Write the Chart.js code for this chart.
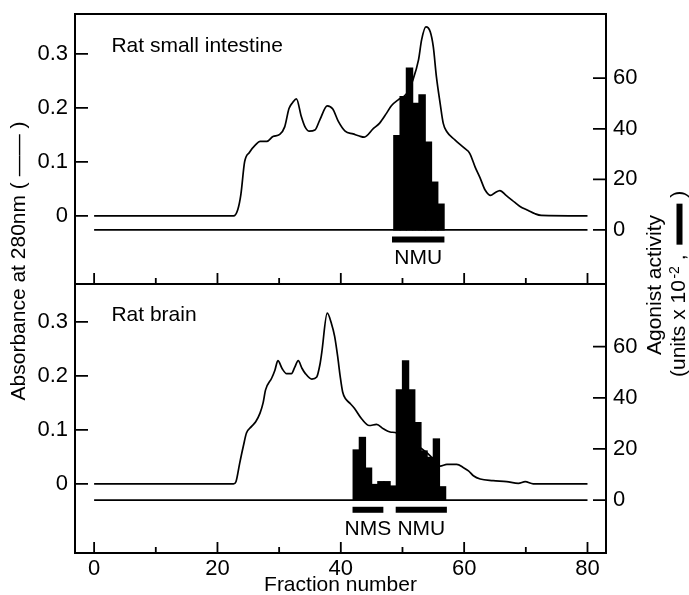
<!DOCTYPE html>
<html>
<head>
<meta charset="utf-8">
<script src="https://cdn.jsdelivr.net/npm/chart.js@4/dist/chart.umd.min.js"></script>
<style>
  html, body { margin: 0; padding: 0; background: #fff; }
  #wrap { position: relative; width: 689px; height: 595px; overflow: hidden; }
  #wrap canvas { position: absolute; left: 0; top: 0; }
</style>
</head>
<body>
<div id="wrap">
  <canvas id="cTop" width="689" height="595"></canvas>
  <canvas id="cBot" width="689" height="595"></canvas>
</div>
<script>
// ---------- data ----------
const fractionTicks = [0, 20, 40, 60, 80];
const fractionMinorTicks = [10, 30, 50, 70];
const absorbanceTicks = [0, 0.1, 0.2, 0.3];
const activityTicks = [0, 20, 40, 60];

const panelNames = ['Rat small intestine', 'Rat brain'];

// Rat small intestine: absorbance at 280 nm
const intestineFraction = [
  0, 22.6, 23.3, 23.8, 24.4, 25.2, 26.2, 26.9, 28.0, 29.0,
  30.1, 30.9, 31.6, 32.2, 32.8, 33.6, 34.2, 34.9, 35.8, 36.6,
  37.8, 38.7, 39.6, 40.7, 42.0, 43.0, 43.8, 45.3, 46.3, 47.4,
  48.2, 49.3, 50.3, 51.0, 51.6, 52.6, 53.1, 53.8, 54.5, 55.0,
  55.5, 56.1, 56.6, 57.2, 58.5, 60.1, 60.9, 61.8, 62.6, 63.4,
  64.3, 65.0, 65.8, 66.8, 67.8, 69.0, 70.4, 71.5, 72.5, 80
];
const intestineAbsorbance = [
  0, 0, 0.012, 0.04, 0.1, 0.118, 0.132, 0.138, 0.138, 0.147,
  0.151, 0.165, 0.199, 0.21, 0.217, 0.184, 0.165, 0.157, 0.159, 0.178,
  0.204, 0.198, 0.175, 0.157, 0.152, 0.148, 0.146, 0.162, 0.172, 0.19,
  0.204, 0.215, 0.222, 0.232, 0.249, 0.289, 0.326, 0.35, 0.341, 0.313,
  0.258, 0.209, 0.172, 0.156, 0.141, 0.125, 0.116, 0.09, 0.07, 0.048,
  0.038, 0.043, 0.047, 0.038, 0.029, 0.018, 0.01, 0.004, 0.001, 0
];
// Rat small intestine: agonist activity (units x 10^-2)
const intestineBarFraction = [49.1, 50.12, 51.14, 52.16, 53.18, 54.2, 55.22, 56.24];
const intestineActivity = [37.3, 52.7, 64.0, 50.1, 53.4, 34.7, 18.9, 10.2];
// pooled fractions
const intestinePoolNames = ['NMU'];
const intestinePoolStart = [48.3];
const intestinePoolEnd = [56.8];

// Rat brain: absorbance at 280 nm
const brainFraction = [
  0, 22.6, 23.0, 23.6, 24.2, 24.7, 25.5, 26.2, 26.9, 27.4,
  27.8, 28.8, 29.3, 29.8, 30.5, 31.2, 32.0, 32.5, 33.1, 33.7,
  34.2, 35.3, 36.1, 36.6, 36.9, 37.8, 38.5, 39.0, 39.5, 39.9,
  40.3, 40.8, 41.5, 42.2, 43.4, 44.6, 45.8, 46.9, 48.0, 48.8,
  50.5, 52.5, 54.5, 56.1, 57.2, 58.8, 59.9, 60.7, 61.5, 62.6,
  64.7, 66.9, 68.8, 69.9, 71.2, 80
];
const brainAbsorbance = [
  0, 0, 0.004, 0.038, 0.07, 0.094, 0.106, 0.115, 0.131, 0.15,
  0.174, 0.196, 0.21, 0.228, 0.213, 0.204, 0.204, 0.215, 0.228, 0.214,
  0.205, 0.194, 0.198, 0.22, 0.242, 0.316, 0.296, 0.273, 0.235, 0.199,
  0.17, 0.157, 0.149, 0.14, 0.12, 0.108, 0.11, 0.102, 0.096, 0.095,
  0.085, 0.07, 0.052, 0.033, 0.036, 0.036, 0.03, 0.024, 0.015, 0.009,
  0.006, 0.004, 0.001, 0.004, 0, 0
];
// Rat brain: agonist activity (units x 10^-2)
const brainBarFraction = [42.5, 43.5, 44.5, 45.5, 46.5, 47.5, 48.5, 49.5, 50.5, 51.5, 52.5, 53.5, 54.5, 55.5, 56.5];
const brainActivity = [19.6, 24.5, 12.5, 6.1, 7.2, 7.2, 5.5, 43.1, 54.4, 43.1, 30.3, 19.2, 16.7, 23.9, 5.2];
const brainPoolNames = ['NMS', 'NMU'];
const brainPoolStart = [41.9, 48.9];
const brainPoolEnd = [46.9, 57.2];

// ---------- styling / layout ----------
const FONT = "'Liberation Sans', Arial, Helvetica, sans-serif";
Chart.defaults.font.family = FONT;
Chart.defaults.color = '#000';

const X_MIN = -3.1, X_MAX = 83;
const POOL_LEVEL = -3.8;       // activity-axis level of pool bars
const POOL_TEXT_LEVEL = -11.3; // activity-axis level of pool labels

function pts(xs, ys) { return xs.map((x, i) => ({ x: x, y: ys[i] })); }

function noPad(s) {
  s.paddingTop = 0; s.paddingBottom = 0; s.paddingLeft = 0; s.paddingRight = 0;
}

const framePlugin = {
  id: 'frameTicks',
  afterDraw(chart) {
    const { ctx, chartArea: a, scales } = chart;
    ctx.save();
    ctx.strokeStyle = '#000';
    ctx.lineWidth = 2;
    ctx.strokeRect(a.left, a.top, a.right - a.left, a.bottom - a.top);
    ctx.lineWidth = 1.8;
    ctx.beginPath();
    absorbanceTicks.forEach(v => {
      const y = scales.yL.getPixelForValue(v);
      ctx.moveTo(a.left, y); ctx.lineTo(a.left + 13, y);
    });
    activityTicks.forEach(v => {
      const y = scales.yR.getPixelForValue(v);
      ctx.moveTo(a.right - 13, y); ctx.lineTo(a.right, y);
    });
    fractionTicks.forEach(v => {
      const x = scales.x.getPixelForValue(v);
      ctx.moveTo(x, a.bottom); ctx.lineTo(x, a.bottom - 11);
    });
    fractionMinorTicks.forEach(v => {
      const x = scales.x.getPixelForValue(v);
      ctx.moveTo(x, a.bottom); ctx.lineTo(x, a.bottom - 6);
    });
    ctx.stroke();
    ctx.restore();
  }
};

const panelTextPlugin = {
  id: 'panelText',
  afterDatasetsDraw(chart, args, o) {
    const { ctx, scales: { x, yL, yR } } = chart;
    ctx.save();
    ctx.fillStyle = '#000';
    ctx.font = '21px ' + FONT;
    ctx.textAlign = 'left';
    ctx.textBaseline = 'alphabetic';
    ctx.fillText(o.title, x.getPixelForValue(o.titleX), yL.getPixelForValue(o.titleY));
    ctx.textAlign = 'center';
    ctx.textBaseline = 'middle';
    o.poolNames.forEach((n, i) => {
      ctx.fillText(n, x.getPixelForValue((o.poolStart[i] + o.poolEnd[i]) / 2), yR.getPixelForValue(POOL_TEXT_LEVEL));
    });
    ctx.restore();
  }
};

const sideTitlesPlugin = {
  id: 'sideTitles',
  afterDraw(chart) {
    const ctx = chart.ctx;
    ctx.save();
    ctx.fillStyle = '#000';
    ctx.font = '21px ' + FONT;
    // left axis title
    ctx.save();
    ctx.translate(19.5, 261);
    ctx.rotate(-Math.PI / 2);
    ctx.textAlign = 'center';
    ctx.textBaseline = 'middle';
    ctx.fillText('Absorbance at 280nm ( \u2014\u2014 )', 0, 0);
    ctx.restore();
    // right axis title, line 1
    ctx.save();
    ctx.translate(655.5, 285);
    ctx.rotate(-Math.PI / 2);
    ctx.textAlign = 'center';
    ctx.textBaseline = 'middle';
    ctx.fillText('Agonist activity', 0, 0);
    ctx.restore();
    // right axis title, line 2
    ctx.save();
    ctx.translate(679.5, 377);
    ctx.rotate(-Math.PI / 2);
    ctx.textAlign = 'left';
    ctx.textBaseline = 'middle';
    let p = 0;
    const t1 = '(units x 10';
    ctx.fillText(t1, p, 0);
    p += ctx.measureText(t1).width + 1.5;
    ctx.font = '14px ' + FONT;
    ctx.fillText('-2', p, -4);
    p += ctx.measureText('-2').width;
    ctx.font = '21px ' + FONT;
    ctx.fillText(' , ', p, 0);
    p += ctx.measureText(' , ').width + 4;
    ctx.fillRect(p, -3, 41, 6);
    p += 41;
    ctx.fillText(' )', p, 0);
    ctx.restore();
    ctx.restore();
  }
};

function makePanel(canvasId, cfg) {
  const datasets = [
    {
      type: 'line', data: pts(cfg.absX, cfg.absY), yAxisID: 'yL',
      borderColor: '#000', borderWidth: 1.7, pointRadius: 0, fill: false,
      tension: 0.4, cubicInterpolationMode: 'monotone', order: 1
    },
    {
      type: 'bar', data: pts(cfg.barX, cfg.barY), yAxisID: 'yR',
      backgroundColor: '#000', borderWidth: 0, barPercentage: 1, categoryPercentage: 1,
      inflateAmount: 0.6, order: 2
    },
    {
      type: 'line', yAxisID: 'yR',
      data: [{ x: fractionTicks[0], y: 0 }, { x: fractionTicks[fractionTicks.length - 1], y: 0 }],
      borderColor: '#000', borderWidth: 1.7, pointRadius: 0, tension: 0, order: 3
    }
  ];
  cfg.poolStart.forEach((s, i) => {
    datasets.push({
      type: 'line', yAxisID: 'yR',
      data: [{ x: s, y: POOL_LEVEL }, { x: cfg.poolEnd[i], y: POOL_LEVEL }],
      borderColor: '#000', borderWidth: 6, borderCapStyle: 'butt', pointRadius: 0, tension: 0, order: 4
    });
  });

  return new Chart(document.getElementById(canvasId), {
    type: 'line',
    data: { datasets: datasets },
    plugins: cfg.extraPlugins,
    options: {
      responsive: false,
      animation: false,
      events: [],
      layout: { padding: { left: 0, right: 0, top: cfg.padTop, bottom: cfg.padBottom } },
      plugins: {
        legend: { display: false },
        tooltip: { enabled: false },
        panelText: {
          title: cfg.title, titleX: 2.8, titleY: cfg.titleY,
          poolNames: cfg.poolNames, poolStart: cfg.poolStart, poolEnd: cfg.poolEnd
        }
      },
      scales: {
        x: {
          type: 'linear', position: 'bottom', min: X_MIN, max: X_MAX, bounds: 'data',
          offset: false,
          grid: { display: false, drawTicks: false, offset: false }, border: { display: false },
          afterBuildTicks: s => { s.ticks = fractionTicks.map(v => ({ value: v })); },
          ticks: {
            display: cfg.showX, font: { size: 22 }, padding: 3, maxRotation: 0, autoSkip: false,
            callback: v => String(v)
          },
          title: {
            display: cfg.showX, text: 'Fraction number',
            font: { size: 21, lineHeight: 0.9 }, padding: { top: 0, bottom: 0 }
          },
          afterFit: s => { s.height = cfg.xHeight; noPad(s); }
        },
        yL: {
          type: 'linear', position: 'left', min: cfg.yLMin, max: cfg.yLMax, bounds: 'data',
          beginAtZero: false, offset: false,
          grid: { display: false, drawTicks: false }, border: { display: false },
          afterBuildTicks: s => { s.ticks = absorbanceTicks.map(v => ({ value: v })); },
          ticks: { font: { size: 22 }, padding: 7, autoSkip: false, callback: v => (v === 0 ? '0' : v.toFixed(1)) },
          afterFit: s => { s.width = 75; noPad(s); }
        },
        yR: {
          type: 'linear', position: 'right', min: cfg.yRMin, max: cfg.yRMax, bounds: 'data',
          beginAtZero: false, offset: false,
          grid: { display: false, drawTicks: false }, border: { display: false },
          afterBuildTicks: s => { s.ticks = activityTicks.map(v => ({ value: v })); },
          ticks: { font: { size: 22 }, padding: 7, autoSkip: false, callback: v => String(v) },
          afterFit: s => { s.width = 83; noPad(s); }
        }
      }
    }
  });
}

makePanel('cTop', {
  absX: intestineFraction, absY: intestineAbsorbance,
  barX: intestineBarFraction, barY: intestineActivity,
  poolNames: intestinePoolNames, poolStart: intestinePoolStart, poolEnd: intestinePoolEnd,
  title: panelNames[0], titleY: 0.304,
  padTop: 14, padBottom: 311, xHeight: 0, showX: false,
  yLMin: -0.126, yLMax: 0.374, yRMin: -21.4, yRMax: 85.4,
  extraPlugins: [framePlugin, panelTextPlugin]
});

makePanel('cBot', {
  absX: brainFraction, absY: brainAbsorbance,
  barX: brainBarFraction, barY: brainActivity,
  poolNames: brainPoolNames, poolStart: brainPoolStart, poolEnd: brainPoolEnd,
  title: panelNames[1], titleY: 0.302,
  padTop: 284, padBottom: 0, xHeight: 42, showX: true,
  yLMin: -0.128, yLMax: 0.370, yRMin: -20.7, yRMax: 84.5,
  extraPlugins: [framePlugin, panelTextPlugin, sideTitlesPlugin]
});
</script>
</body>
</html>
